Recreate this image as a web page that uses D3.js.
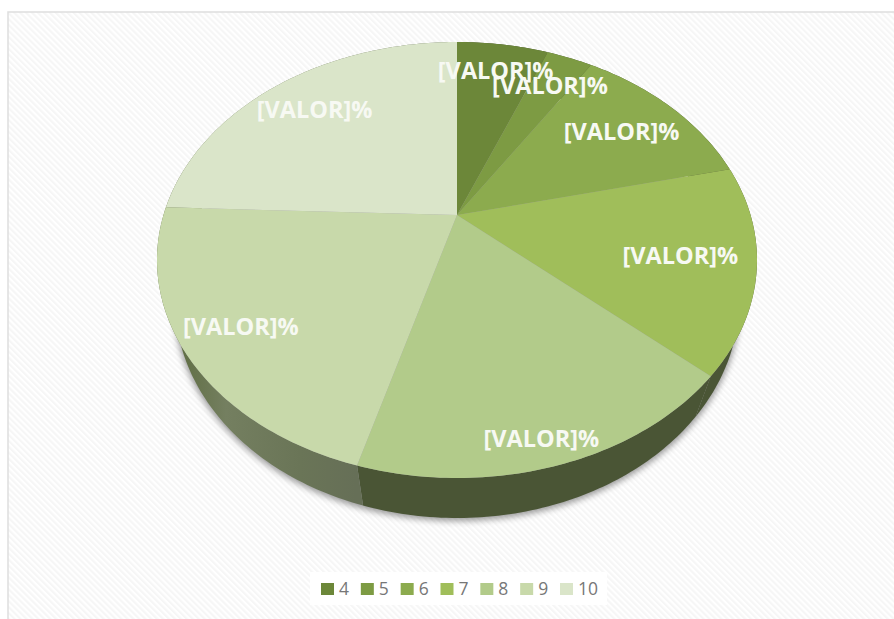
<!DOCTYPE html>
<html>
<head>
    <title>Pie</title>
    <script src="https://cdnjs.cloudflare.com/ajax/libs/d3/7.8.5/d3.min.js"></script>
    <style>
        html, body { margin: 0; padding: 0; background: #fff; }
        svg { display: block; }
        .label { font-family: "Open Sans", sans-serif; font-size: 23.5px; font-weight: 700; fill: #f7f9f3; text-anchor: middle; }
        .legend-text { font-family: "Open Sans", sans-serif; font-size: 17.5px; fill: #777; }
    </style>
</head>
<body>
<svg id="chart"></svg>
<script>
    const categories = ["4", "5", "6", "7", "8", "9", "10"];
    const values = [6, 3, 12.3, 15.3, 17.8, 21.2, 24.4];
    const labelText = "[VALOR]%";
    const colors = ["#6c8739", "#7d9b43", "#8cab4e", "#a0be5a", "#b2cb8a", "#c8d9aa", "#dae5c9"];

    const width = 894;
    const height = 619;

    // how far out each label sits, as a fraction of the pie radius
    const labelRadius = [0.82, 0.80, 0.75, 0.755, 0.91, 0.82, 0.78];
    // small turn off the slice middle, in degrees
    const labelTurn = [0, 0, 0, 0, 1.2, 0, 0];

    // top and bottom ellipse of the tilted disc
    const top_ = { cx: 457, cy: 260, rx: 300, ry: 218 };
    const bottom = { cx: 457, cy: 301, rx: 282, ry: 217 };
    // perspective shift: the pie centre lands above the centre of the ellipse
    const k = -0.206;

    function project(e, angle, r) {
        const x = r * Math.sin(angle);
        const y = -r * Math.cos(angle);
        const d = 1 + k * y;
        return [
            e.cx + e.rx * x * Math.sqrt(1 - k * k) / d,
            e.cy + e.ry * (y + k) / d
        ];
    }

    function arcPoints(e, a0, a1) {
        const n = Math.max(2, Math.ceil((a1 - a0) * 60));
        return d3.range(n + 1).map(i => project(e, a0 + (a1 - a0) * i / n, 1));
    }

    function labelPos(d, i) {
        const mid = (d.startAngle + d.endAngle) / 2 + labelTurn[i] * Math.PI / 180;
        return project(top_, mid, labelRadius[i]);
    }

    const svg = d3.select("#chart").attr("width", width).attr("height", height);
    const defs = svg.append("defs");

    const hatch = defs.append("pattern")
        .attr("id", "hatch")
        .attr("width", 4.2)
        .attr("height", 4.2)
        .attr("patternUnits", "userSpaceOnUse")
        .attr("patternTransform", "rotate(-45)");
    hatch.append("rect").attr("width", 4.2).attr("height", 4.2).attr("fill", "#fff");
    hatch.append("rect").attr("width", 2.1).attr("height", 4.2).attr("fill", "#f6f6f6");

    defs.append("filter")
        .attr("id", "blur")
        .attr("x", "-10%").attr("y", "-10%").attr("width", "120%").attr("height", "120%")
        .append("feGaussianBlur").attr("stdDeviation", 3);

    const sideGrad = defs.append("linearGradient")
        .attr("id", "side9")
        .attr("gradientUnits", "userSpaceOnUse")
        .attr("x1", 170).attr("x2", 356).attr("y1", 0).attr("y2", 0);
    sideGrad.append("stop").attr("offset", 0).attr("stop-color", "#5c6b3e");
    sideGrad.append("stop").attr("offset", 0.3).attr("stop-color", "#747f60");
    sideGrad.append("stop").attr("offset", 0.7).attr("stop-color", "#6a7557");
    sideGrad.append("stop").attr("offset", 1).attr("stop-color", "#666f57");

    // chart area
    svg.append("rect")
        .attr("x", 8).attr("y", 12)
        .attr("width", width - 8 + 4).attr("height", height - 12 + 4)
        .attr("fill", "url(#hatch)")
        .attr("stroke", "#dedede")
        .attr("stroke-width", 1.5);

    const pie = d3.pie().sort(null).value(d => d);
    const slices = pie(values);
    const line = d3.line();
    const color = d3.scaleOrdinal().domain(categories).range(colors);

    // soft shadow under the disc
    svg.append("path")
        .attr("d", line(arcPoints({ ...bottom, rx: bottom.rx + 1, cy: bottom.cy + 3 }, 0, 2 * Math.PI)) + "Z")
        .attr("fill", "#666")
        .attr("opacity", 0.65)
        .attr("filter", "url(#blur)");

    // side wall
    svg.append("g").selectAll("path")
        .data(slices)
        .join("path")
        .attr("d", d => line(arcPoints(top_, d.startAngle, d.endAngle)
            .concat(arcPoints(bottom, d.startAngle, d.endAngle).reverse())) + "Z")
        .attr("fill", (d, i) => i >= 5 ? "url(#side9)" : "#4a5535");

    // top face
    svg.append("g").selectAll("path")
        .data(slices)
        .join("path")
        .attr("d", d => line([project(top_, 0, 0)].concat(arcPoints(top_, d.startAngle, d.endAngle))) + "Z")
        .attr("fill", (d, i) => color(categories[i]));

    // labels
    svg.append("g").selectAll("text")
        .data(slices)
        .join("text")
        .attr("class", "label")
        .attr("x", (d, i) => labelPos(d, i)[0])
        .attr("y", (d, i) => labelPos(d, i)[1])
        .attr("dy", "0.35em")
        .text(labelText);

    // legend
    const legendX = d3.scalePoint().domain(categories).range([321, 560]);
    svg.append("rect")
        .attr("x", 310).attr("y", 572)
        .attr("width", 297).attr("height", 33)
        .attr("fill", "#fff");

    const legend = svg.append("g").selectAll("g")
        .data(categories)
        .join("g")
        .attr("transform", d => `translate(${legendX(d)},583)`);

    legend.append("rect")
        .attr("width", 13).attr("height", 12)
        .attr("fill", d => color(d));

    legend.append("text")
        .attr("class", "legend-text")
        .attr("x", 18)
        .attr("y", 12)
        .text(d => d);
</script>
</body>
</html>
